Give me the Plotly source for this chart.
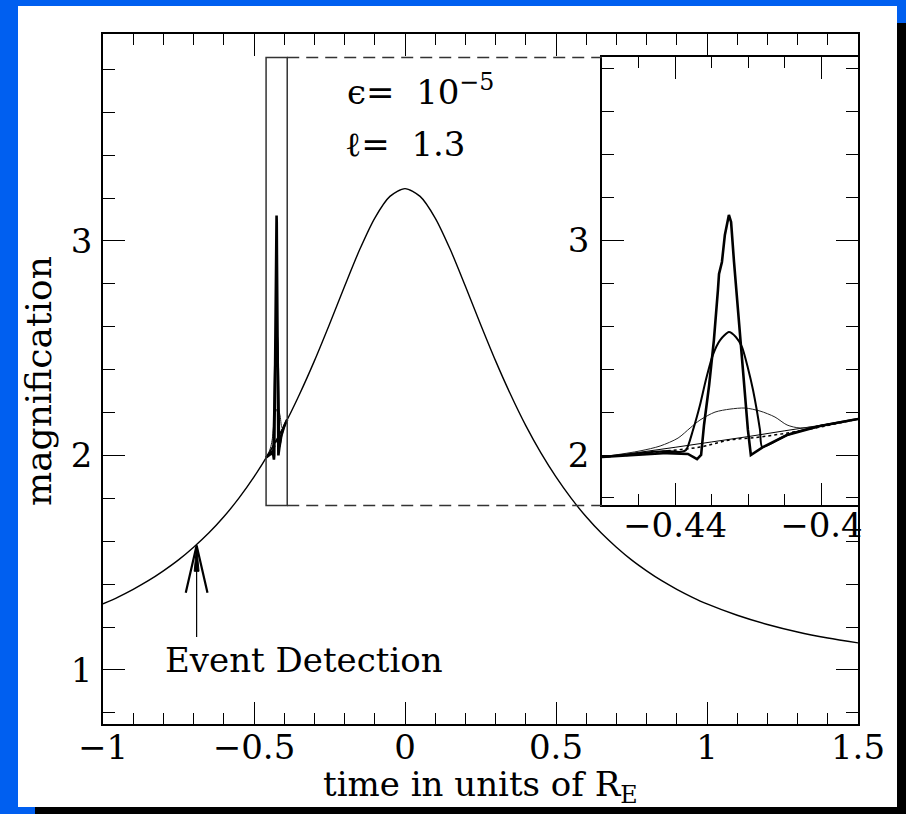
import plotly.graph_objects as go

# ---------------- data ----------------
main_t = [-1.00, -0.95, -0.90, -0.85, -0.80, -0.75, -0.70, -0.65, -0.60, -0.55,
          -0.50, -0.45, -0.40, -0.35, -0.30, -0.25, -0.20, -0.15, -0.10, -0.05,
          0.00, 0.05, 0.10, 0.15, 0.20, 0.25, 0.30, 0.35, 0.40, 0.45,
          0.50, 0.55, 0.60, 0.65, 0.70, 0.75, 0.80, 0.85, 0.90, 0.95,
          1.00, 1.10, 1.20, 1.30, 1.40, 1.50]
main_mag = [1.308, 1.340, 1.376, 1.416, 1.462, 1.513, 1.572, 1.638, 1.714, 1.801,
            1.900, 2.012, 2.139, 2.283, 2.441, 2.612, 2.789, 2.960, 3.107, 3.208,
            3.244, 3.208, 3.107, 2.960, 2.789, 2.612, 2.441, 2.283, 2.139, 2.012,
            1.900, 1.801, 1.714, 1.638, 1.572, 1.513, 1.462, 1.416, 1.376, 1.340,
            1.308, 1.255, 1.212, 1.177, 1.149, 1.126]

# unperturbed curve inside the zoom window
base_t = [-0.46, -0.45, -0.44, -0.43, -0.42, -0.41, -0.40, -0.39]
base_mag = [1.988, 2.012, 2.036, 2.061, 2.086, 2.113, 2.139, 2.167]

# point-source (sharp) planetary spike
spike_t = [-0.4600, -0.4510, -0.4422, -0.4365, -0.4340, -0.4329, -0.4321, -0.4307,
           -0.4294, -0.4283, -0.4280, -0.4272, -0.4264, -0.4253, -0.4247, -0.4239,
           -0.4228, -0.4214, -0.4201, -0.4193, -0.4160, -0.4094, -0.4004, -0.3900]
spike_mag = [1.991, 2.000, 2.009, 2.005, 1.981, 2.000, 2.140, 2.326,
             2.536, 2.769, 2.844, 2.900, 3.026, 3.119, 3.086, 2.900,
             2.676, 2.350, 2.117, 2.000, 2.037, 2.093, 2.135, 2.168]

# intermediate source size
mid_t = [-0.4600, -0.4422, -0.4387, -0.4370, -0.4351, -0.4332, -0.4316, -0.4297,
         -0.4277, -0.4253, -0.4234, -0.4217, -0.4201, -0.4187, -0.4168, -0.4162,
         -0.4094, -0.4004, -0.3900]
mid_mag = [1.991, 2.019, 2.014, 2.023, 2.117, 2.233, 2.350, 2.466,
           2.536, 2.573, 2.550, 2.503, 2.406, 2.303, 2.117, 2.037,
           2.093, 2.135, 2.168]

# large source (broad bump)
broad_t = [-0.4600, -0.4496, -0.4441, -0.4392, -0.4359, -0.4332, -0.4291, -0.4250,
           -0.4209, -0.4168, -0.4127, -0.4094, -0.4058, -0.3977, -0.3900]
broad_mag = [1.991, 2.019, 2.042, 2.079, 2.126, 2.163, 2.200, 2.214,
             2.219, 2.205, 2.177, 2.140, 2.126, 2.145, 2.168]

# very large source (dotted)
dot_t = [-0.4600, -0.4515, -0.4422, -0.4332, -0.4250, -0.4168, -0.4078, -0.3990, -0.3900]
dot_mag = [1.991, 2.000, 2.019, 2.037, 2.070, 2.084, 2.107, 2.135, 2.168]

event_t = -0.69
event_mag = 1.58
arrow_tail_mag = 1.154

# ---------------- axes geometry ----------------
main_xr = [-1.0, 1.5]
main_yr = [0.748, 3.965]
ins_xr = [-0.46, -0.39]
ins_yr = [1.767, 3.8555]
ins_dx = [0.6609, 1.0]
ins_dy = [0.3174, 0.9667]

FONT = "DejaVu Serif"
BLACK = "black"
NB = "\u00a0"

fig = go.Figure()

fig.add_trace(go.Scatter(x=main_t, y=main_mag, mode="lines",
                         line=dict(color=BLACK, width=1.4, shape="spline", smoothing=0.8),
                         xaxis="x", yaxis="y", hoverinfo="skip"))

for xa, ya in [("x", "y"), ("x2", "y2")]:
    fig.add_trace(go.Scatter(x=base_t, y=base_mag, mode="lines",
                             line=dict(color=BLACK, width=1.0, shape="spline"),
                             xaxis=xa, yaxis=ya, hoverinfo="skip"))
    fig.add_trace(go.Scatter(x=dot_t, y=dot_mag, mode="lines",
                             line=dict(color=BLACK, width=1.5, dash="3px,3px", shape="spline"),
                             xaxis=xa, yaxis=ya, hoverinfo="skip"))
    fig.add_trace(go.Scatter(x=broad_t, y=broad_mag, mode="lines",
                             line=dict(color="#222", width=1.0, shape="spline", smoothing=0.8),
                             xaxis=xa, yaxis=ya, hoverinfo="skip"))
    fig.add_trace(go.Scatter(x=mid_t, y=mid_mag, mode="lines",
                             line=dict(color=BLACK, width=2.0, shape="spline", smoothing=0.6),
                             xaxis=xa, yaxis=ya, hoverinfo="skip"))
    fig.add_trace(go.Scatter(x=spike_t, y=spike_mag, mode="lines",
                             line=dict(color=BLACK, width=2.6),
                             xaxis=xa, yaxis=ya, hoverinfo="skip"))


def axis_common(**kw):
    d = dict(showline=True, linecolor=BLACK, linewidth=1.6, mirror="allticks",
             ticks="inside", tickcolor=BLACK, tickwidth=1.3, ticklen=22,
             showgrid=False, zeroline=False,
             tickfont=dict(family=FONT, size=34, color=BLACK))
    d.update(kw)
    return d


fig.update_layout(
    width=906, height=814,
    margin=dict(l=103, r=48, t=34, b=90, pad=0),
    paper_bgcolor="#005FF0", plot_bgcolor="white",
    showlegend=False,
    xaxis=axis_common(range=main_xr, domain=[0, 1], anchor="y", tick0=0, dtick=0.5,
                      ticklabelstandoff=-8,
                      minor=dict(ticks="inside", ticklen=11, dtick=0.1, tick0=0,
                                 tickcolor=BLACK, tickwidth=1.2)),
    yaxis=axis_common(range=main_yr, domain=[0, 1], anchor="x", tick0=0, dtick=1,
                      ticklabelstandoff=2,
                      minor=dict(ticks="inside", ticklen=12, dtick=0.2, tick0=0,
                                 tickcolor=BLACK, tickwidth=1.2)),
    xaxis2=axis_common(range=ins_xr, domain=ins_dx, anchor="y2", tick0=-0.44, dtick=0.04,
                       ticklabelstandoff=-11,
                       minor=dict(ticks="inside", ticklen=11, dtick=0.01, tick0=-0.46,
                                  tickcolor=BLACK, tickwidth=1.2)),
    yaxis2=axis_common(range=ins_yr, domain=ins_dy, anchor="x2", tick0=0, dtick=1,
                       ticklabelstandoff=4,
                       minor=dict(ticks="inside", ticklen=12, dtick=0.2, tick0=0,
                                  tickcolor=BLACK, tickwidth=1.2)),
)


# ---------------- frame decoration (pixel helper) ----------------
PL, PR, PT, PB = 103, 858, 34, 724


def px(x):
    return (x - PL) / (PR - PL)


def py(y):
    return (PB - y) / (PB - PT)


shapes = [
    dict(type="rect", xref="paper", yref="paper", x0=px(18), x1=px(897), y0=py(807), y1=py(6),
         fillcolor="white", line=dict(width=0), layer="below"),
    dict(type="rect", xref="paper", yref="paper", x0=px(897), x1=px(910), y0=py(818), y1=py(23),
         fillcolor="black", line=dict(width=0), layer="below"),
    dict(type="rect", xref="paper", yref="paper", x0=px(35), x1=px(910), y0=py(818), y1=py(807),
         fillcolor="black", line=dict(width=0), layer="below"),
]

# zoom window box and connectors (main data coordinates)
ins_left_main = main_xr[0] + (main_xr[1] - main_xr[0]) * ins_dx[0]
shapes.append(dict(type="rect", xref="x", yref="y", x0=ins_xr[0], x1=ins_xr[1],
                   y0=ins_yr[0], y1=ins_yr[1], line=dict(color="#333", width=1.5)))
for yy in ins_yr:
    shapes.append(dict(type="line", xref="x", yref="y", x0=ins_xr[1], x1=ins_left_main,
                       y0=yy, y1=yy, line=dict(color="#333", width=1.5, dash="12px,7px")))

# event detection arrow
shapes.append(dict(type="line", xref="x", yref="y", x0=event_t, x1=event_t,
                   y0=arrow_tail_mag, y1=event_mag, line=dict(color=BLACK, width=1.2)))
barb_dx = 0.036
barb_dy = 0.22
shapes.append(dict(type="path", xref="x", yref="y",
                   path=f"M {event_t - barb_dx},{event_mag - barb_dy} L {event_t},{event_mag} "
                        f"L {event_t + barb_dx},{event_mag - barb_dy}",
                   line=dict(color=BLACK, width=2.2)))
shapes.append(dict(type="path", xref="x", yref="y",
                   path=f"M {event_t - 0.008},{event_mag - 0.12} L {event_t},{event_mag} "
                        f"L {event_t + 0.008},{event_mag - 0.12} Z",
                   fillcolor=BLACK, line=dict(color=BLACK, width=1)))
fig.update_layout(shapes=shapes)

ann = [
    dict(text="ϵ=" + NB + NB + "10<sup>−5</sup>", x=-0.199, y=3.704, xref="x", yref="y",
         xanchor="left", yanchor="middle", showarrow=False,
         font=dict(family=FONT, size=34, color=BLACK)),
    dict(text="ℓ=" + NB + NB + "1.3", x=-0.205, y=3.452, xref="x", yref="y",
         xanchor="left", yanchor="middle", showarrow=False,
         font=dict(family=FONT, size=34, color=BLACK)),
    dict(text="Event Detection", x=-0.801, y=1.047, xref="x", yref="y",
         xanchor="left", yanchor="middle", showarrow=False,
         font=dict(family=FONT, size=34, color=BLACK)),
    dict(text="time in units of R<sub>E</sub>", x=px(480), y=py(786), xref="paper", yref="paper",
         xanchor="center", yanchor="middle", showarrow=False,
         font=dict(family=FONT, size=34, color=BLACK)),
    dict(text="magnification", x=px(38), y=py(381), xref="paper", yref="paper",
         xanchor="center", yanchor="middle", showarrow=False, textangle=-90,
         font=dict(family=FONT, size=36, color=BLACK)),
]
fig.update_layout(annotations=ann)

fig.write_html("out.html")
